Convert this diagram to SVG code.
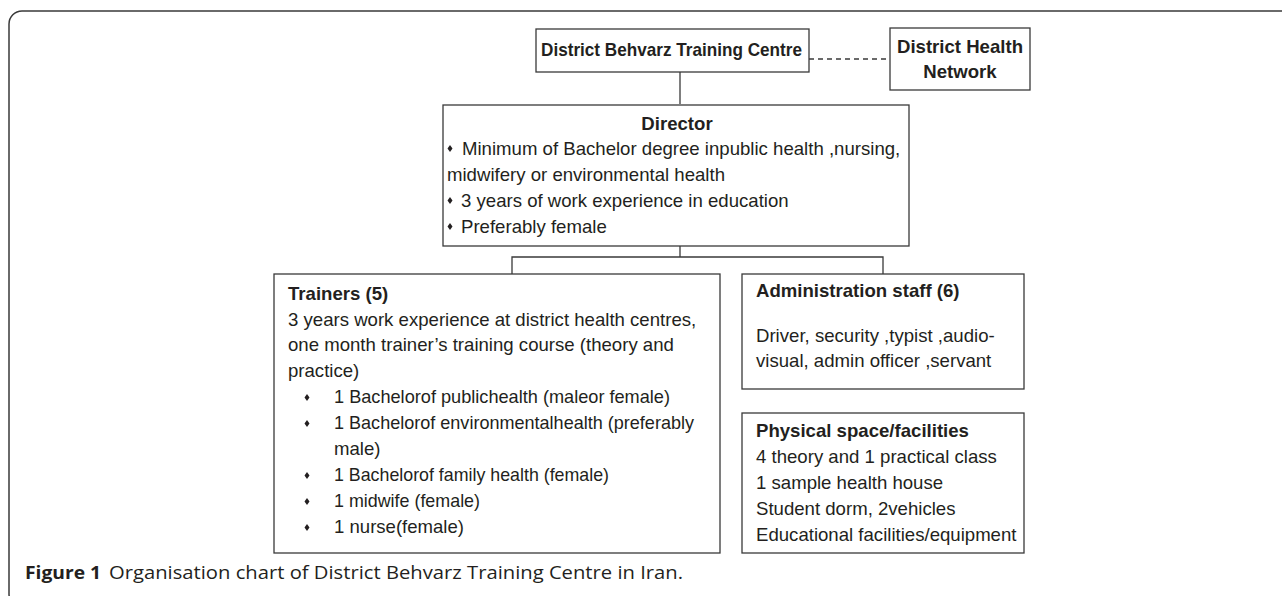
<svg xmlns="http://www.w3.org/2000/svg" width="1282" height="596" viewBox="0 0 1282 596">
<style>
.box{fill:#fff;stroke:#3a3a3a;stroke-width:1.3}
.ln{fill:none;stroke:#3a3a3a;stroke-width:1.3}
.t{font-family:"Liberation Sans",Arial,sans-serif;font-size:18.6px;fill:#231f20}
.b{font-weight:bold}
.cap{font-family:"Open Sans","Liberation Sans",sans-serif;font-size:17.5px;fill:#231f20}
.dot{fill:#231f20}
</style>
<rect x="9" y="11" width="1300" height="596" rx="13" ry="13" fill="#fff" stroke="#3a3a3a" stroke-width="1.5"/>
<g id="connectors">
<line class="ln" x1="680" y1="72" x2="680" y2="104"/>
<line class="ln" x1="809" y1="59" x2="890" y2="59" stroke-dasharray="5,4"/>
<line class="ln" x1="680" y1="246" x2="680" y2="257"/>
<polyline class="ln" points="512,274 512,257 883,257 883,274"/>
</g>
<g id="dtc">
<rect class="box" x="536" y="29" width="273" height="43"/>
<text class="t b" x="541" y="56" textLength="261" lengthAdjust="spacingAndGlyphs">District Behvarz Training Centre</text>
</g>
<g id="dhn">
<rect class="box" x="890" y="28" width="140" height="62"/>
<text class="t b" x="960" y="53" text-anchor="middle">District Health</text>
<text class="t b" x="960" y="78" text-anchor="middle">Network</text>
</g>
<g id="director">
<rect class="box" x="443" y="105" width="466" height="141"/>
<text class="t b" x="677" y="130" text-anchor="middle">Director</text>
<polygon class="dot" points="450,145 452.5,148.5 450,152 447.5,148.5"/>
<text class="t" x="462" y="155">Minimum of Bachelor degree inpublic health ,nursing,</text>
<text class="t" x="447" y="181">midwifery or environmental health</text>
<polygon class="dot" points="450,197 452.5,200.5 450,204 447.5,200.5"/>
<text class="t" x="461" y="207">3 years of work experience in education</text>
<polygon class="dot" points="450,223 452.5,226.5 450,230 447.5,226.5"/>
<text class="t" x="461" y="233">Preferably female</text>
</g>
<g id="trainers">
<rect class="box" x="274" y="274" width="446" height="279"/>
<text class="t b" x="288" y="300">Trainers (5)</text>
<text class="t" x="288" y="326">3 years work experience at district health centres,</text>
<text class="t" x="288" y="351">one month trainer’s training course (theory and</text>
<text class="t" x="288" y="377">practice)</text>
<polygon class="dot" points="307,394 309.5,397.5 307,401 304.5,397.5"/>
<text class="t" x="334" y="403" textLength="336" lengthAdjust="spacingAndGlyphs">1 Bachelorof publichealth (maleor female)</text>
<polygon class="dot" points="307,420 309.5,423.5 307,427 304.5,423.5"/>
<text class="t" x="334" y="429" textLength="360" lengthAdjust="spacingAndGlyphs">1 Bachelorof environmentalhealth (preferably</text>
<text class="t" x="334" y="455">male)</text>
<polygon class="dot" points="307,472 309.5,475.5 307,479 304.5,475.5"/>
<text class="t" x="334" y="481" textLength="275" lengthAdjust="spacingAndGlyphs">1 Bachelorof family health (female)</text>
<polygon class="dot" points="307,498 309.5,501.5 307,505 304.5,501.5"/>
<text class="t" x="334" y="507" textLength="146" lengthAdjust="spacingAndGlyphs">1 midwife (female)</text>
<polygon class="dot" points="307,524 309.5,527.5 307,531 304.5,527.5"/>
<text class="t" x="334" y="533" textLength="130" lengthAdjust="spacingAndGlyphs">1 nurse(female)</text>
</g>
<g id="admin">
<rect class="box" x="742" y="274" width="282" height="115"/>
<text class="t b" x="756" y="297">Administration staff (6)</text>
<text class="t" x="756" y="342">Driver, security ,typist ,audio-</text>
<text class="t" x="756" y="367">visual, admin officer ,servant</text>
</g>
<g id="physical">
<rect class="box" x="742" y="413" width="282" height="140"/>
<text class="t b" x="756" y="437">Physical space/facilities</text>
<text class="t" x="756" y="463">4 theory and 1 practical class</text>
<text class="t" x="756" y="489">1 sample health house</text>
<text class="t" x="756" y="515">Student dorm, 2vehicles</text>
<text class="t" x="756" y="541">Educational facilities/equipment</text>
</g>
<g id="caption">
<text class="cap b" x="25" y="579" textLength="76" lengthAdjust="spacingAndGlyphs">Figure 1</text>
<text class="cap" x="109" y="579" textLength="574" lengthAdjust="spacingAndGlyphs">Organisation chart of District Behvarz Training Centre in Iran.</text>
</g>
</svg>
